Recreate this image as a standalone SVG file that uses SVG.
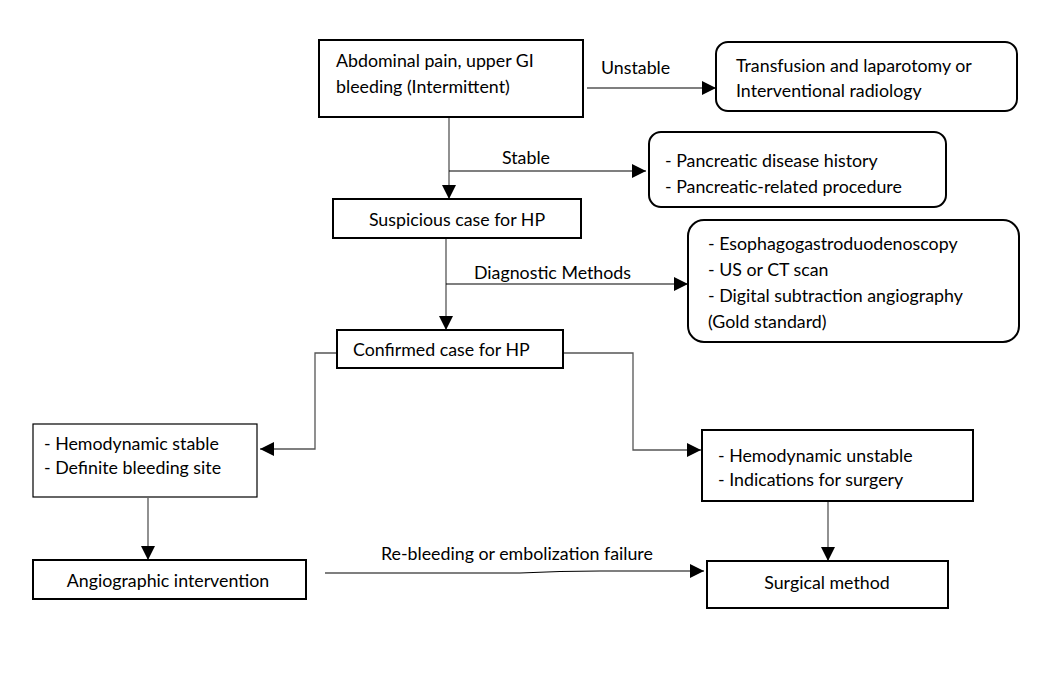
<svg xmlns="http://www.w3.org/2000/svg" width="1062" height="682" viewBox="0 0 1062 682">
<defs>
<style>
text{font-family:Lato,"Liberation Sans",sans-serif;font-size:17.8px;fill:#000}
.b{fill:#fff;stroke:#000;stroke-width:2}
.t{fill:#fff;stroke:#000;stroke-width:1.2}
.r{fill:#fff;stroke:#000;stroke-width:2}
.c{fill:none;stroke:#000;stroke-width:1.2}
.g{fill:none;stroke:#555;stroke-width:1.3}
.m{text-anchor:middle}
</style>
<marker id="a" viewBox="0 0 10 10" refX="10" refY="5" markerWidth="14" markerHeight="14" markerUnits="userSpaceOnUse" orient="auto"><path d="M0,0 L10,5 L0,10 z" fill="#000"/></marker>
</defs>
<rect width="1062" height="682" fill="#fff"/>
<g id="connectors">
<line class="c" x1="587" y1="88" x2="716" y2="88" marker-end="url(#a)"/>
<text x="601" y="74">Unstable</text>
<line class="g" x1="449" y1="118" x2="449" y2="199" marker-end="url(#a)"/>
<line class="c" x1="449" y1="171" x2="646" y2="171" marker-end="url(#a)"/>
<text x="502" y="164">Stable</text>
<line class="g" x1="446" y1="239" x2="446" y2="330" marker-end="url(#a)"/>
<line class="c" x1="446" y1="284" x2="688" y2="284" marker-end="url(#a)"/>
<text x="474" y="279">Diagnostic Methods</text>
<polyline class="g" points="337,353 315,353 315,449 260,449" marker-end="url(#a)"/>
<polyline class="g" points="563,353 633,353 633,450 701,450" marker-end="url(#a)"/>
<line class="g" x1="148" y1="498" x2="148" y2="560" marker-end="url(#a)"/>
<line class="g" x1="828" y1="502" x2="828" y2="561" marker-end="url(#a)"/>
<path class="c" d="M325,573 L520,573 Q560,571 600,571 L704,571" marker-end="url(#a)"/>
<text x="381" y="560">Re-bleeding or embolization failure</text>
</g>
<g id="n1"><rect class="b" x="319" y="40" width="264" height="77"/><text x="336" y="67">Abdominal pain, upper GI</text><text x="336" y="93">bleeding (Intermittent)</text></g>
<g id="n2"><rect class="r" x="716" y="42" width="301" height="69" rx="12"/><text x="736" y="72">Transfusion and laparotomy or</text><text x="736" y="97">Interventional radiology</text></g>
<g id="n3"><rect class="r" x="649" y="132" width="297" height="75" rx="12"/><text x="665" y="167">- Pancreatic disease history</text><text x="665" y="193">- Pancreatic-related procedure</text></g>
<g id="n4"><rect class="b" x="333" y="199" width="248" height="39"/><text class="m" x="457" y="226">Suspicious case for HP</text></g>
<g id="n5"><rect class="r" x="688" y="220" width="331" height="122" rx="16"/><text x="708" y="250">- Esophagogastroduodenoscopy</text><text x="708" y="276">- US or CT scan</text><text x="708" y="302">- Digital subtraction angiography</text><text x="708" y="328">(Gold standard)</text></g>
<g id="n6"><rect class="b" x="337" y="330" width="226" height="38"/><text x="353" y="356">Confirmed case for HP</text></g>
<g id="n7"><rect class="t" x="33" y="424" width="224" height="73"/><text x="44" y="450">- Hemodynamic stable</text><text x="44" y="474">- Definite bleeding site</text></g>
<g id="n8"><rect class="b" x="702" y="430" width="271" height="71"/><text x="718" y="462">- Hemodynamic unstable</text><text x="718" y="486">- Indications for surgery</text></g>
<g id="n9"><rect class="b" x="33" y="560" width="273" height="39"/><text class="m" x="168" y="587">Angiographic intervention</text></g>
<g id="n10"><rect class="b" x="707" y="561" width="241" height="47"/><text class="m" x="827" y="589">Surgical method</text></g>
</svg>
